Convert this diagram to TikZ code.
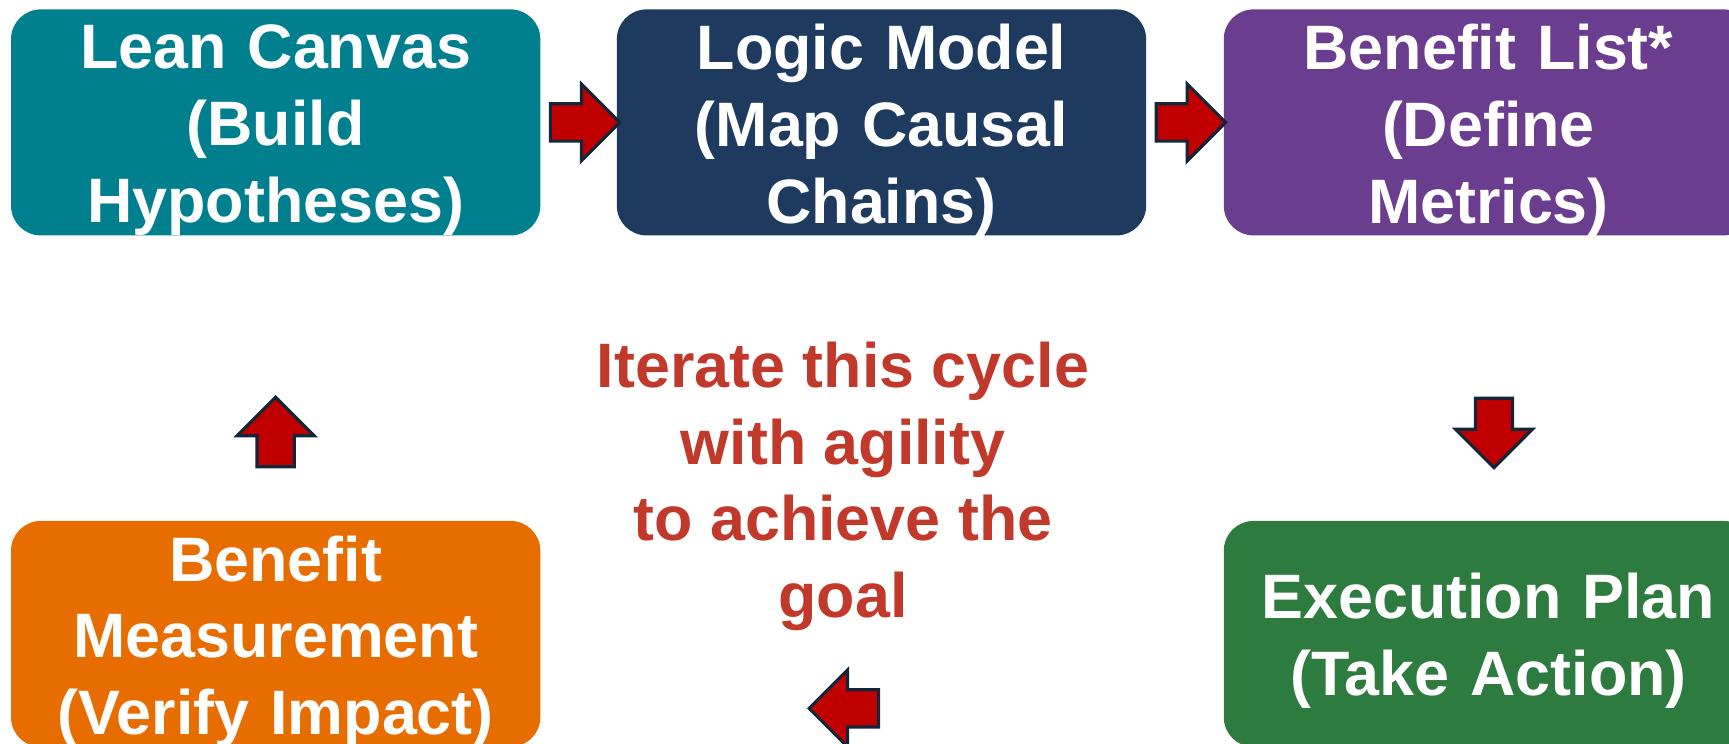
\documentclass[tikz,border=0pt]{standalone}
\usepackage{fontspec}
\setmainfont{Liberation Sans}
\usetikzlibrary{shapes}
\usetikzlibrary{positioning}
\definecolor{leanteal}{RGB}{0,128,143}
\definecolor{logicnavy}{RGB}{31,58,95}
\definecolor{listpurple}{RGB}{107,61,142}
\definecolor{plangreen}{RGB}{46,123,64}
\definecolor{measorange}{RGB}{232,109,0}
\definecolor{mottored}{RGB}{192,57,43}
\definecolor{arrowred}{RGB}{192,0,0}
\definecolor{arrowline}{RGB}{20,37,58}

\begin{document}
\begin{tikzpicture}
	\tikzstyle{stage}=[rectangle, rounded corners=0.27cm, minimum width=4.8cm, minimum height=2.05cm, inner sep=0pt]
	\tikzstyle{stagetext}=[inner sep=0pt, text width=4.8cm, align=center, text=white, font=\bfseries\fontsize{16.2}{19.8}\selectfont]
	\tikzstyle{turn}=[single arrow, draw=arrowline, fill=arrowred, line width=0.8pt, minimum height=0.63cm, minimum width=0.67cm, single arrow head extend=0.18cm, inner sep=0.155cm]
	\tikzstyle{motto}=[align=center, text=mottored, inner sep=0pt, font=\bfseries\fontsize{16.2}{19.8}\selectfont]

	\useasboundingbox (0,0) rectangle (15.68,6.74);
	\clip (0,0) rectangle (15.68,6.74);

	\node[stage, fill=leanteal] (lean) at (2.50,5.63) {};
	\node[stage, fill=logicnavy, right=0.68cm of lean] (logic) {};
	\node[stage, fill=listpurple, right=0.69cm of logic] (benlist) {};
	\node[stage, fill=plangreen, below=2.575cm of benlist] (exec) {};
	\node[stage, fill=measorange, below=2.575cm of lean] (measure) {};

	\node[stagetext] (leantext) at ([yshift=-0.07cm]lean) {Lean Canvas\\(Build\\Hypotheses)};
	\node[stagetext] (logictext) at ([yshift=-0.07cm]logic) {Logic Model\\(Map Causal\\Chains)};
	\node[stagetext] (benlisttext) at ([yshift=-0.07cm]benlist) {Benefit List*\\(Define\\Metrics)};
	\node[stagetext] (exectext) at ([yshift=-0.065cm]exec) {Execution Plan\\(Take Action)};
	\node[stagetext] (measuretext) at ([yshift=-0.07cm]measure) {Benefit\\Measurement\\(Verify Impact)};

	\node[motto] (cycle) at (7.645,2.33) {Iterate this cycle\\with agility\\to achieve the\\goal};

	\node[turn, right=0.07cm of lean] (toLogic) {};
	\node[turn, right=0.07cm of logic] (toList) {};
	\node[turn, shape border rotate=270] (toExec) at ([xshift=0.05cm, yshift=-1.70cm]benlist.south) {};
	\node[turn, shape border rotate=180] (toMeasure) at ([xshift=2.83cm, yshift=-0.675cm]measure.east) {};
	\node[turn, shape border rotate=90] (toLean) at ([yshift=-1.86cm]lean.south) {};
\end{tikzpicture}
\end{document}
